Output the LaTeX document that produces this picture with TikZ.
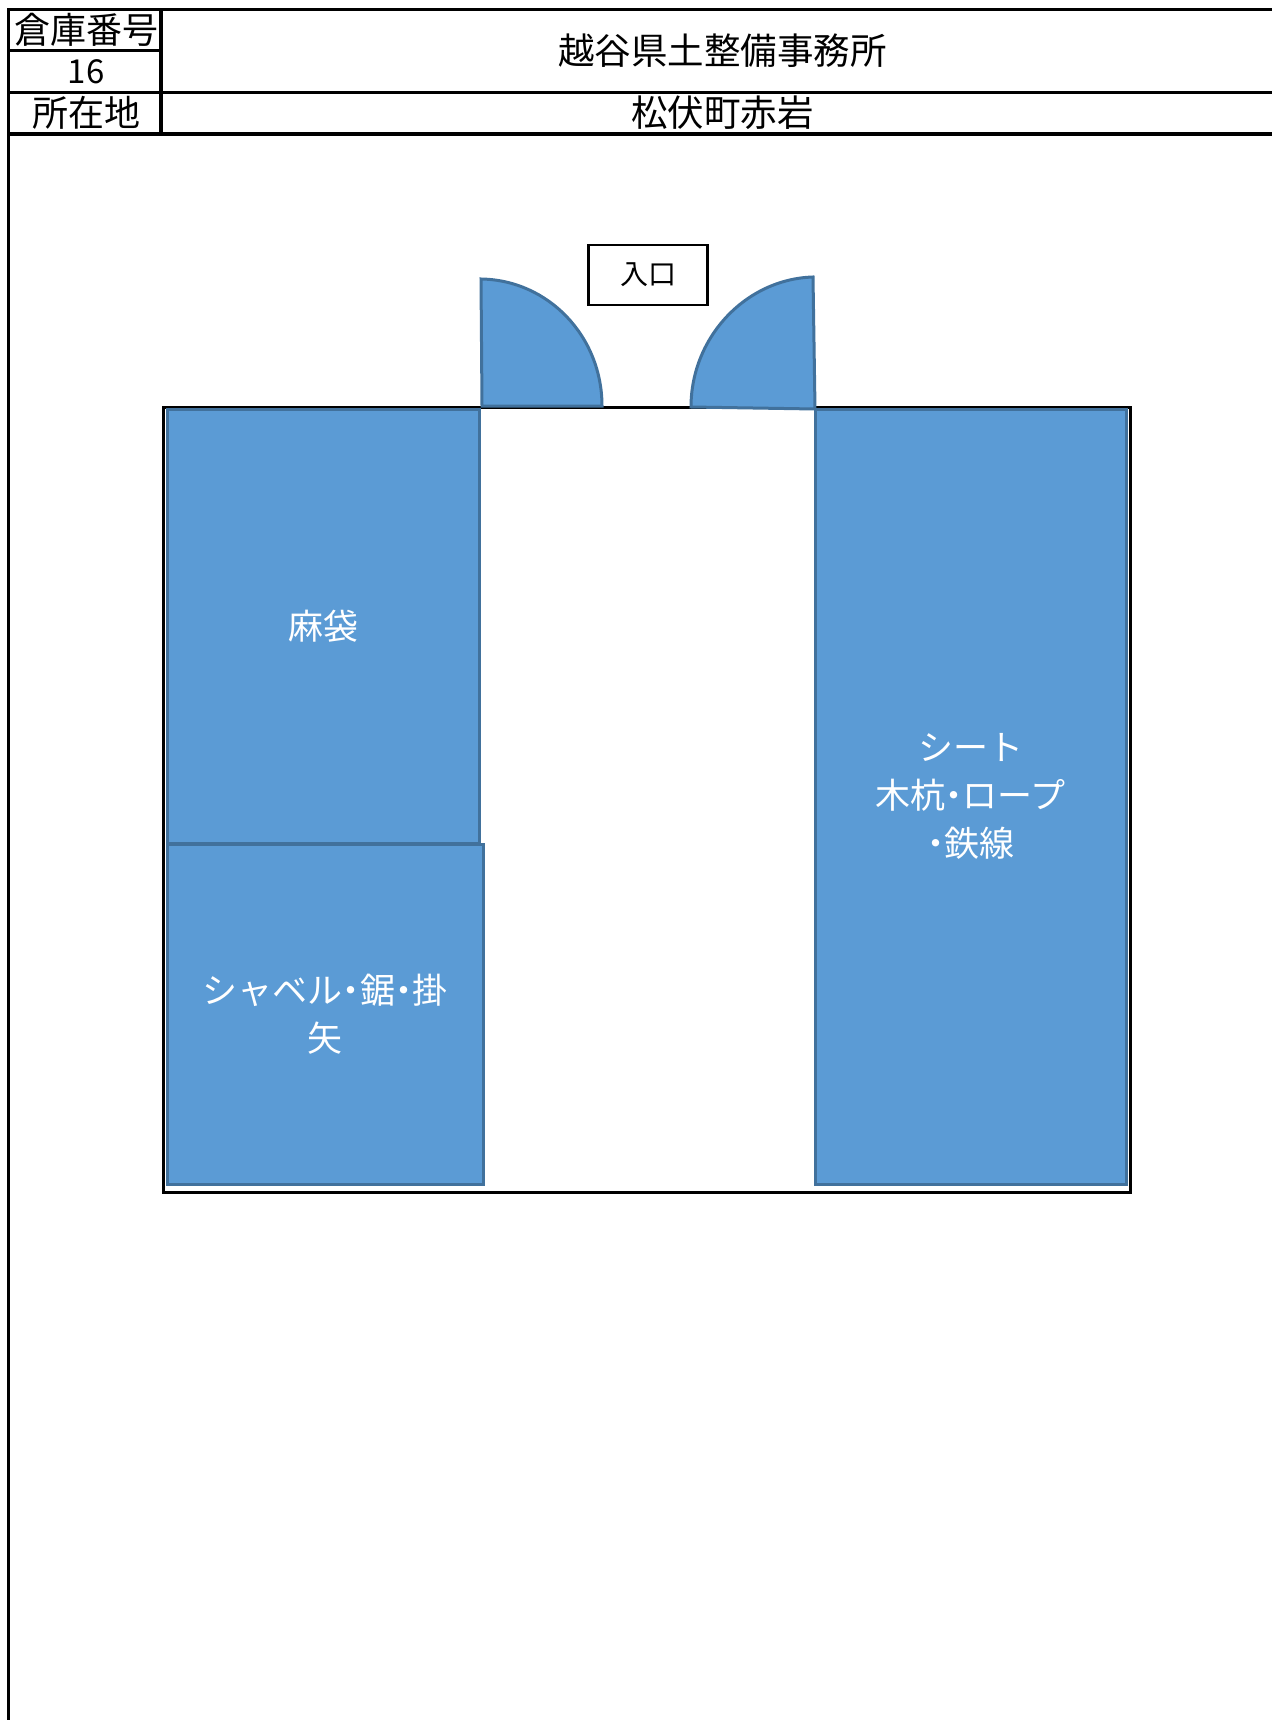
\documentclass[tikz,border=0pt]{standalone}
\usepackage{fontspec}
\usetikzlibrary{positioning}
\newfontfamily\jpfont{Noto Sans CJK JP}
\definecolor{shelfblue}{HTML}{5B9BD5}
\definecolor{shelfline}{HTML}{41719C}
\newcommand{\nakaten}{\kern-.25em・\kern-.25em}

\tikzset{
  cell/.style={draw=black, line width=3.5pt, inner sep=0pt, outer sep=0pt, text height=27pt, text depth=0pt,
    font=\jpfont\fontsize{36.5}{36.5}\selectfont, execute at begin node={\kern3pt}},
  shelf/.style={draw=shelfline, fill=shelfblue, line width=3pt, text=white, align=center, inner sep=0pt,
    font=\jpfont\fontsize{35}{48}\selectfont},
  door/.style={draw=shelfline, fill=shelfblue, line width=3pt, line join=miter}
}

\begin{document}
\begin{tikzpicture}[x=1pt, y=-1pt, node distance=0pt]
   \useasboundingbox (0,0) rectangle (1271,1720);

   % header table
   \node[cell, minimum width=152.5, minimum height=41, font=\jpfont\fontsize{36}{36}\selectfont] (numlabel) at (84.75,30) {倉庫番号};
   \node[cell, minimum width=152.5, minimum height=42, text height=24pt, font=\jpfont\fontsize{33}{33}\selectfont] (num) [below=of numlabel] {16};
   \node[cell, minimum width=152.5, minimum height=41.5, font=\jpfont\fontsize{36}{36}\selectfont] (addrlabel) [below=of num] {所在地};
   \node[cell, minimum width=1120, minimum height=83, anchor=north west] (office) at (numlabel.north east) {越谷県土整備事務所};
   \node[cell, minimum width=1120, minimum height=41.5, anchor=north west] (addr) at (addrlabel.north east) {松伏町赤岩};
   \coordinate (pagefoot) at (8.5,1725);
   \draw[line width=3.5pt] (addrlabel.south west) -- (pagefoot);

   % warehouse
   \node[draw=black, line width=3pt, minimum width=966.5, minimum height=785, inner sep=0pt] (room) at (647,799.5) {};
   \node[shelf, minimum width=312, minimum height=434] (sack) at (323,626) {麻袋};
   \node[shelf, minimum width=316, minimum height=340] (tools) at (325,1014) {シャベル\nakaten 鋸\nakaten 掛\\矢};
   \node[shelf, minimum width=311, minimum height=775] (sheet) at (970.5,796.5) {シート\\木杭\nakaten ロープ\\\nakaten 鉄線};

   % doors
   \draw[door] (481,279) .. controls (548,280) and (602,336) .. (602,406) -- (482,406) -- cycle;
   \draw[door] (813,277) .. controls (746,279) and (691,337) .. (691,407) -- (815,409) -- cycle;
   \node[draw=black, line width=2.5pt, minimum width=119, minimum height=60, inner sep=0pt,
     font=\jpfont\fontsize{28}{28}\selectfont] (gate) at (648,275) {入口};
\end{tikzpicture}
\end{document}
